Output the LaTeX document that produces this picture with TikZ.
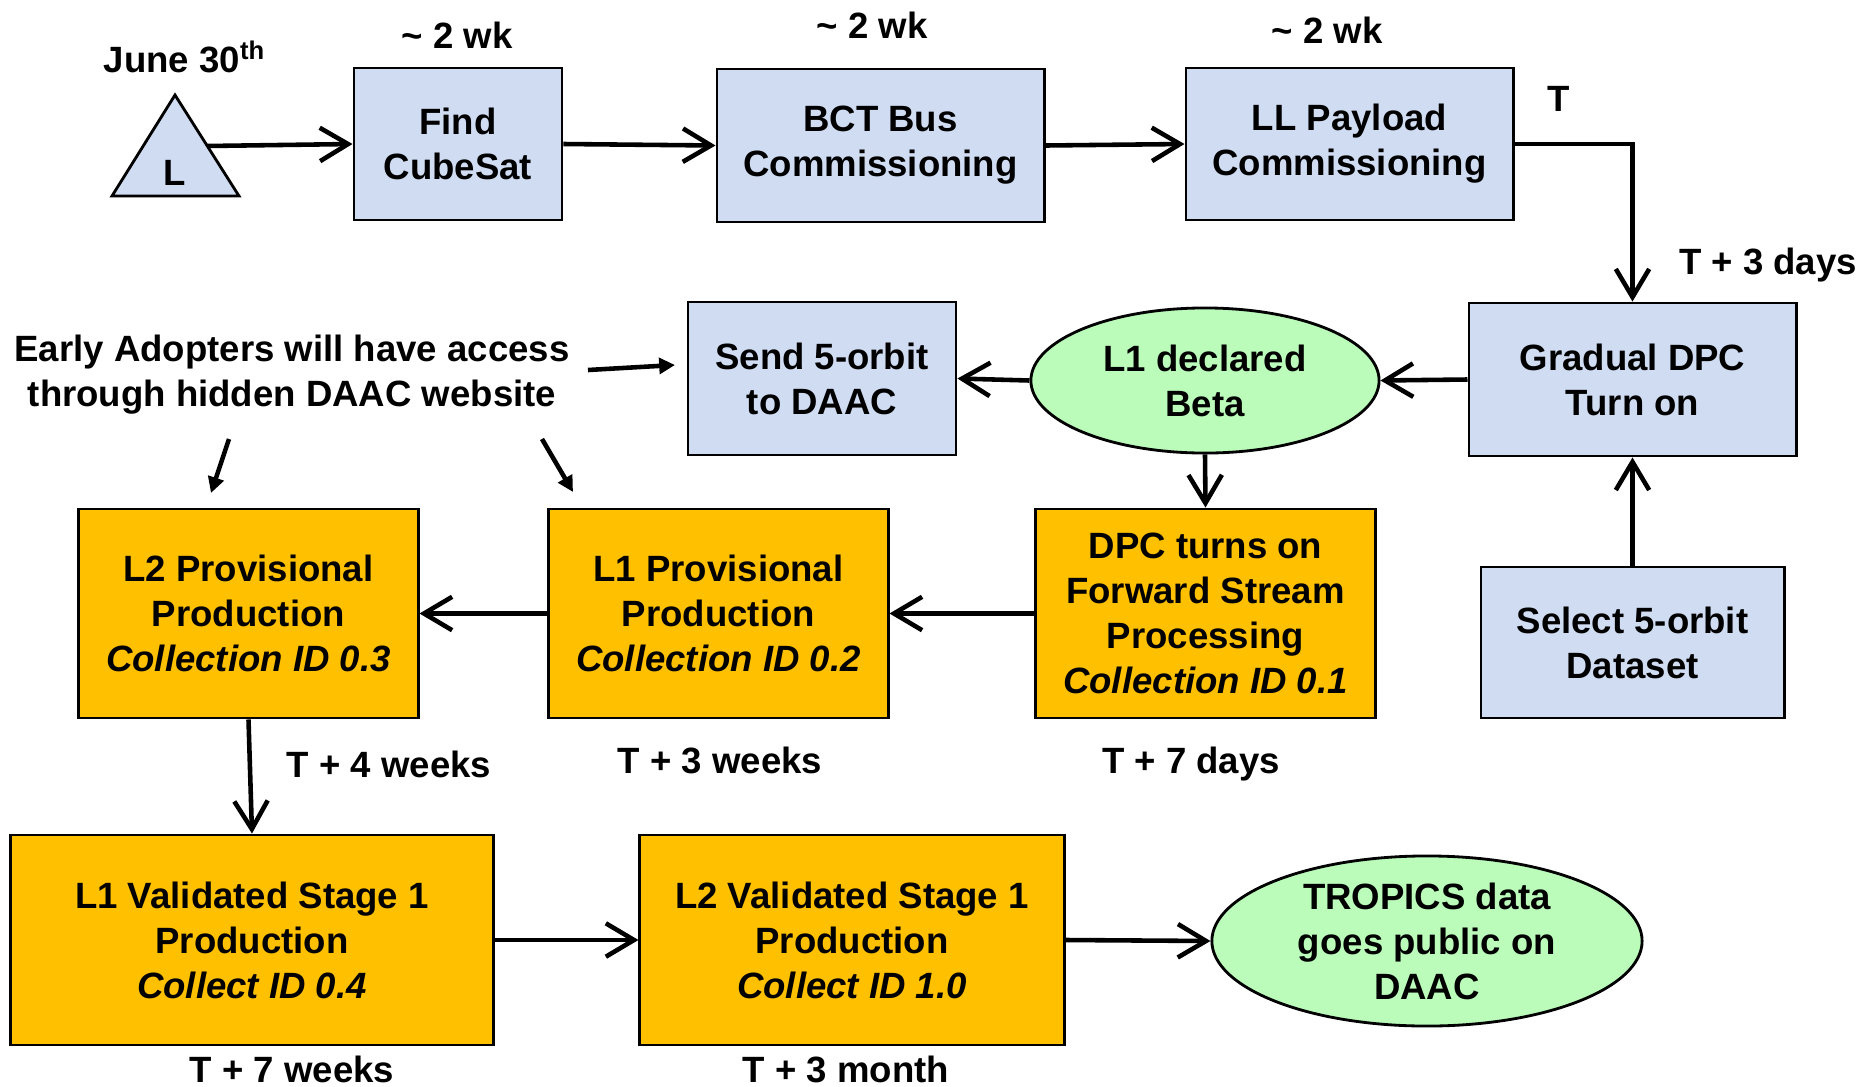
\documentclass[tikz,border=0pt]{standalone}
\usepackage{fontspec}
\setmainfont{Liberation Sans}
\usepackage{xcolor}
\usepackage{tikz}
\usetikzlibrary{arrows.meta}
\usetikzlibrary{shapes.geometric}
\definecolor{planblue}{RGB}{208,220,242}
\definecolor{prodgold}{RGB}{255,192,0}
\definecolor{betagreen}{RGB}{187,252,187}
\newcommand\tfont{\bfseries\fontsize{10.4}{12.8}\selectfont}
\newcommand\coll[1]{\textit{#1}}
\tikzstyle{stage}=[draw,line width=.8pt,align=center,inner sep=0pt,font=\tfont]
\tikzstyle{plan}=[stage,fill=planblue]
\tikzstyle{prod}=[stage,fill=prodgold]
\tikzstyle{mile}=[stage,ellipse,fill=betagreen]
\tikzstyle{tlabel}=[inner sep=0pt,align=center,font=\tfont]
\tikzstyle{flowhead}=[>/.tip={Straight Barb[length=8pt,width=9.5pt]}]
\tikzstyle{flow}=[line width=1.3pt,flowhead,->]
\tikzstyle{notehead}=[>/.tip={Triangle[length=4.5pt,width=4.5pt]}]
\tikzstyle{note}=[line width=1.3pt,notehead,->]

\begin{document}
\begin{tikzpicture}[x=0.01cm,y=-0.01cm]
	\useasboundingbox (0,0) rectangle (1871,1087);
	% launch
	\draw[line width=.8pt,fill=planblue] (175,95) -- (112,196) -- (239,196) -- cycle;
	\node[tlabel] (launch) at (175,173) {L};
	\coordinate (lnch) at (207,146);
	\node[tlabel] (june) at (185,57) {June 30\textsuperscript{th}};
	% top row
	\node[plan,minimum width=2.08cm,minimum height=1.52cm] (find) at (458,144)    {Find\\CubeSat};
	\node[plan,minimum width=3.27cm,minimum height=1.53cm] (bct)  at (880.5,145.5) {BCT Bus\\Commissioning};
	\node[plan,minimum width=3.27cm,minimum height=1.52cm] (ll)   at (1349.5,144) {LL Payload\\Commissioning};
	\node[tlabel] (wka) at (457,35)  {\textasciitilde\ 2 wk};
	\node[tlabel] (wkb) at (872,25)  {\textasciitilde\ 2 wk};
	\node[tlabel] (wkc) at (1327,30) {\textasciitilde\ 2 wk};
	\node[tlabel] (tzero) at (1559,99) {T};
	\node[tlabel] (tday) at (1768,265) {T + 3 days};
	% second row
	\node[plan,minimum width=3.27cm,minimum height=1.53cm] (grad) at (1632.5,379.5) {Gradual DPC\\Turn on};
	\node[mile,minimum width=3.48cm,minimum height=1.45cm] (beta) at (1205,380.5) {L1 declared\\Beta};
	\node[plan,minimum width=2.68cm,minimum height=1.53cm] (send) at (822,378.5) {Send 5-orbit\\to DAAC};
	\node[tlabel] (early) at (292,375) {Early Adopters will have access\\through hidden DAAC website};
	\coordinate (eaA) at (229,439); \coordinate (eaAh) at (211,493);
	\coordinate (eaB) at (542,439); \coordinate (eaBh) at (573,492);
	\coordinate (eaC) at (588,370); \coordinate (eaCh) at (675,365);
	% third row
	\node[prod,minimum width=3.39cm,minimum height=2.09cm] (ltwoprov) at (248.5,613.5) {L2 Provisional\\Production\\\coll{Collection ID 0.3}};
	\node[prod,minimum width=3.39cm,minimum height=2.09cm] (loneprov) at (718.5,613.5) {L1 Provisional\\Production\\\coll{Collection ID 0.2}};
	\node[prod,minimum width=3.39cm,minimum height=2.09cm] (dpc) at (1205.5,613.5) {DPC turns on\\Forward Stream\\Processing\\\coll{Collection ID 0.1}};
	\node[plan,minimum width=3.03cm,minimum height=1.51cm] (select) at (1632.5,642.5) {Select 5-orbit\\Dataset};
	\node[tlabel] (tfourw) at (389,764) {T + 4 weeks};
	\node[tlabel] (tthreew) at (720,760) {T + 3 weeks};
	\node[tlabel] (tsevend) at (1191,764) {T + 7 days};
	% bottom row
	\node[prod,minimum width=4.82cm,minimum height=2.10cm] (lonevalid) at (252,940) {L1 Validated Stage 1\\Production\\\coll{Collect ID 0.4}};
	\node[prod,minimum width=4.24cm,minimum height=2.10cm] (ltwovalid) at (852,940) {L2 Validated Stage 1\\Production\\\coll{Collect ID 1.0}};
	\node[mile,minimum width=4.30cm,minimum height=1.70cm] (public) at (1427,941) {TROPICS data\\goes public on\\DAAC};
	\node[tlabel] (tsevenw) at (292,1069) {T + 7 weeks};
	\node[tlabel] (tmonth) at (846,1069) {T + 3 month};
	% connectors
	\draw[flow] (lnch) -- (find.west);
	\draw[flow] (find.east) -- (bct.west);
	\draw[flow] (bct.east) -- (ll.west);
	\draw[flow] (ll.east) -| (grad.north);
	\draw[flow] (grad.west) -- (beta.east);
	\draw[flow] (beta.west) -- (send.east);
	\draw[flow] (beta.south) -- (dpc.north);
	\draw[flow] (select.north) -- (grad.south);
	\draw[flow] (dpc.west) -- (loneprov.east);
	\draw[flow] (loneprov.west) -- (ltwoprov.east);
	\draw[flow] (ltwoprov.south) -- (lonevalid.north);
	\draw[flow] (lonevalid.east) -- (ltwovalid.west);
	\draw[flow] (ltwovalid.east) -- (public.west);
	\draw[note] (eaA) -- (eaAh);
	\draw[note] (eaB) -- (eaBh);
	\draw[note] (eaC) -- (eaCh);
\end{tikzpicture}
\end{document}
